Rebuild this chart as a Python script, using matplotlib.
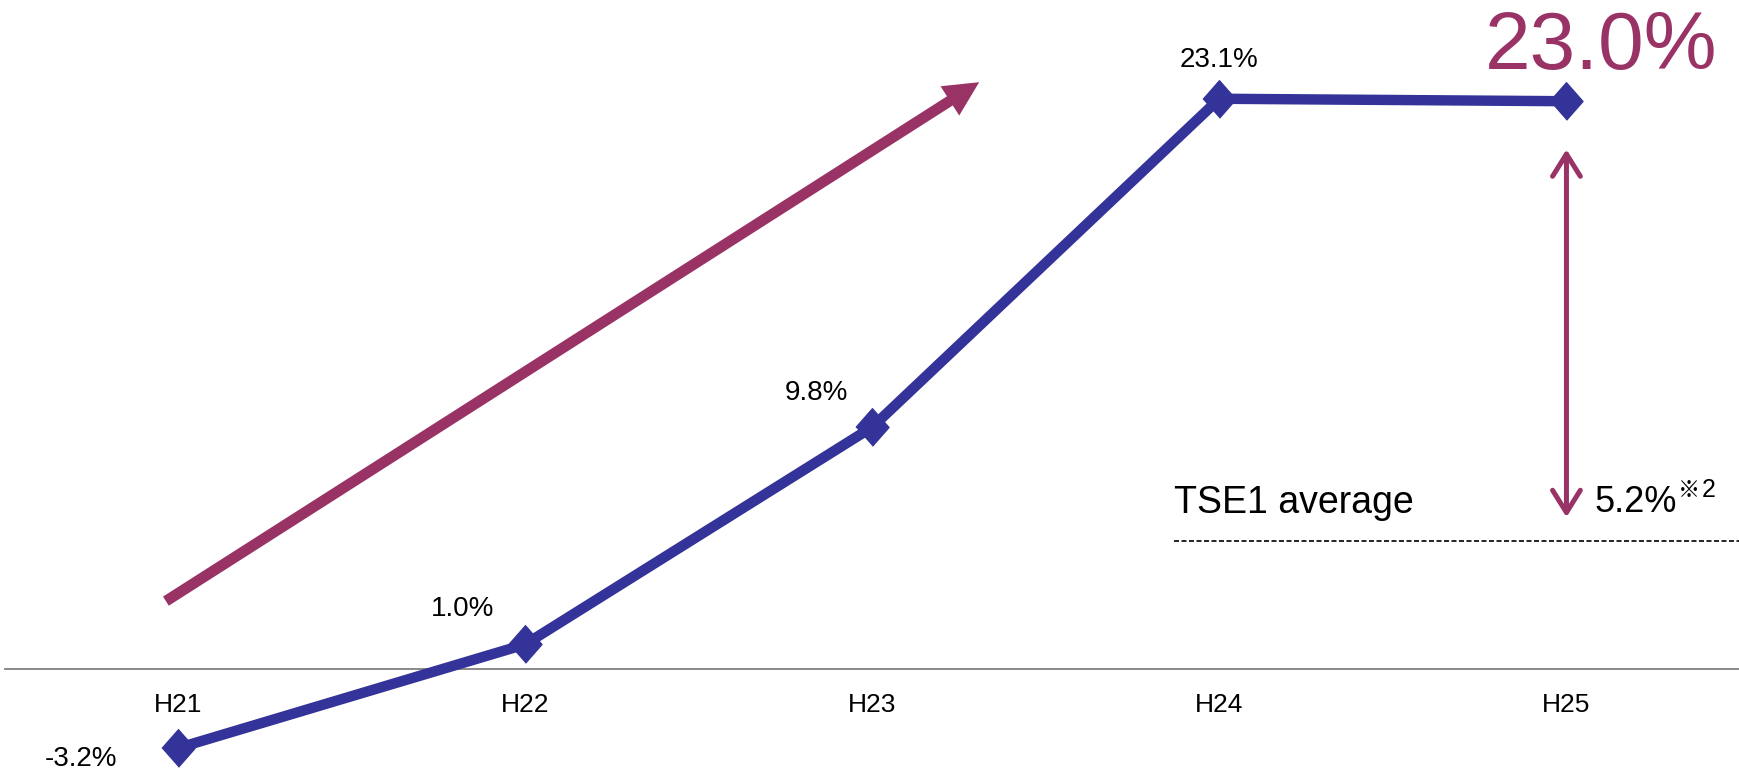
import matplotlib.pyplot as plt

years = ['H21', 'H22', 'H23', 'H24', 'H25']
roe = [-3.2, 1.0, 9.8, 23.1, 23.0]
roe_labels = ['-3.2%', '1.0%', '9.8%', '23.1%', '']
tse_avg = 5.2
big_label = '23.0%'

blue = '#333399'
maroon = '#993366'

plt.rcParams['font.family'] = ['Liberation Sans', 'Noto Sans CJK JP']

fig = plt.figure(figsize=(17.4, 7.7), dpi=100)
ax = fig.add_axes([0, 0, 1, 1])
ax.axis('off')
ax.set_xlim(-0.513, 4.50)
ax.set_ylim(-4.09, 27.1)

x = list(range(len(years)))

# zero line
ax.axhline(0, xmin=0.003, xmax=1, color='#808080', lw=1.3, zorder=1)

# main series, diamonds a bit taller than wide like the original
diamond = [(-0.44, 0), (0, 0.5), (0.44, 0), (0, -0.5)]
ax.plot(x, roe, color=blue, lw=7.5, marker=diamond, ms=27, zorder=3)

# point labels
offsets = [(-0.28, -3.93), (0.82, 2.15), (1.84, 10.9), (3.0, 24.4)]
for (tx, ty), lab in zip(offsets, roe_labels):
    ax.text(tx, ty, lab, ha='center', va='baseline', fontsize=20)

# category labels
for xi, yr in zip(x, years):
    ax.text(xi, -1.74, yr, ha='center', va='baseline', fontsize=19)

# big highlight value
ax.text(4.10, 24.3, big_label, ha='center', va='baseline', fontsize=59, color=maroon)

# rising trend arrow
ax.annotate('', xy=(2.308, 23.77), xytext=(-0.035, 2.75),
            arrowprops=dict(arrowstyle='simple,head_length=1.25,head_width=1.25,tail_width=0.39',
                            fc=maroon, ec='none', lw=0, shrinkA=0, shrinkB=0,
                            mutation_scale=20))

# gap arrow between H25 and TSE1 average
ax.annotate('', xy=(4, 21.05), xytext=(4, 6.15),
            arrowprops=dict(arrowstyle='<->,head_length=0.8,head_width=0.5',
                            lw=3.6, color=maroon, shrinkA=0, shrinkB=0,
                            mutation_scale=20, capstyle='round', joinstyle='round'))

# TSE1 average line and text
ax.plot([2.87, 4.50], [tse_avg, tse_avg], color='black', lw=1.2,
        dashes=(3, 1.5))
ax.text(2.87, 6.3, 'TSE1 average', ha='left', va='baseline', fontsize=27)
t52 = ax.text(4.08, 6.35, f'{tse_avg}%', ha='left', va='baseline', fontsize=26)
ax.annotate('※', xy=(1, 0), xycoords=t52, xytext=(1, 13),
            textcoords='offset points', ha='left', va='bottom', fontsize=16,
            family=['Noto Sans CJK JP'])
ax.annotate('2', xy=(1, 0), xycoords=t52, xytext=(18, 13),
            textcoords='offset points', ha='left', va='bottom', fontsize=18)

fig.savefig('out.png', dpi=100)
